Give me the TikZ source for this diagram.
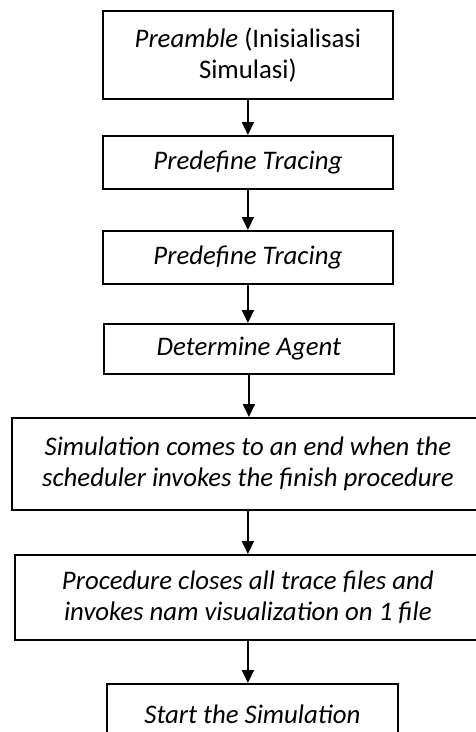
\documentclass[tikz,border=0pt]{standalone}
\usepackage{fontspec}
\setmainfont{Carlito}
\usetikzlibrary{arrows.meta}
\tikzset{
  boxnode/.style={draw=black, line width=1.8pt, inner sep=0pt, anchor=north west, align=center,
    font=\fontsize{26.8}{31.5}\selectfont\itshape},
  flowarrow/.style={line width=1.8pt, -{Triangle[length=13pt,width=12pt]}}
}
\begin{document}
\begin{tikzpicture}[x=1pt,y=1pt]
\useasboundingbox (0,0) rectangle (476,-732);
\clip (0,0) rectangle (476,-732);
\fill[white] (0,0) rectangle (476,-732);
\node[boxnode, minimum width=290pt, minimum height=88pt] (b1) at (102,-10)
  {Preamble \upshape(Inisialisasi\\ \upshape Simulasi)};
\node[boxnode, minimum width=290pt, minimum height=53pt] (b2) at (102,-135) {Predefine Tracing};
\node[boxnode, minimum width=290pt, minimum height=53pt] (b3) at (102,-230) {Predefine Tracing};
\node[boxnode, minimum width=290pt, minimum height=50pt] (b4) at (103,-323) {Determine Agent};
\node[boxnode, minimum width=472pt, minimum height=92pt] (b5) at (11,-417)
  {Simulation comes to an end when the\\ scheduler invokes the finish procedure};
\node[boxnode, minimum width=466pt, minimum height=85pt] (b6) at (14,-554)
  {Procedure closes all trace files and\\ invokes nam visualization on 1 file};
\node[boxnode, minimum width=291pt, minimum height=60pt] (b7) at (106,-683) {Start the Simulation};
\draw[flowarrow] (b1.south) -- (b1.south |- b2.north);
\draw[flowarrow] (b2.south) -- (b2.south |- b3.north);
\draw[flowarrow] (b3.south) -- (b3.south |- b4.north);
\draw[flowarrow] (b4.south) -- (b4.south |- b5.north);
\draw[flowarrow] (b5.south) -- (b5.south |- b6.north);
\draw[flowarrow] (b6.south) -- (b6.south |- b7.north);
\end{tikzpicture}
\end{document}
